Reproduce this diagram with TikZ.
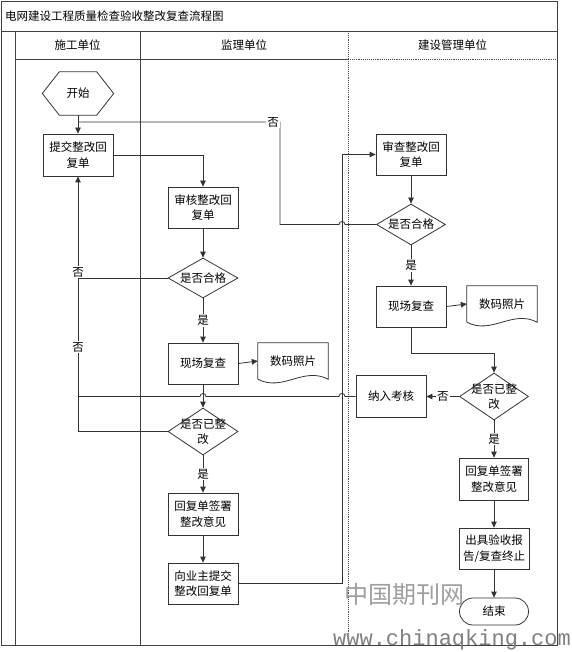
\documentclass[tikz,border=0pt]{standalone}
\usepackage{fontspec}
\setmainfont{Noto Sans CJK SC}
\newfontfamily\wmmono{Liberation Mono}
\usetikzlibrary{arrows.meta,shapes.geometric,shapes.misc,calc}
\begin{document}
\begin{tikzpicture}[x=1pt,y=-1pt,
  frame/.style={draw=black!75, line width=0.8pt},
  dotline/.style={draw=black!70, line width=0.9pt, densely dotted},
  line/.style={draw=black!80, line width=0.8pt},
  arr/.style={line, -{Triangle[length=6pt,width=5.5pt]}},
  txt/.style={font=\fontsize{11.5}{15.5}\selectfont, align=center, inner sep=0pt},
  box/.style={txt, draw=black!80, line width=0.8pt, minimum width=70pt, minimum height=41pt, fill=white},
  dia/.style={draw=black!80, line width=0.8pt, diamond, minimum width=70pt, minimum height=40pt, inner sep=0pt, fill=white},
  lbl/.style={txt, fill=white, inner sep=1pt},
  shapebox/.style={txt, minimum width=70pt, minimum height=36pt}
]
\useasboundingbox (0,0) rectangle (571,652);

% frame and lanes
\draw[frame] (1,1) rectangle (557,645);
\draw[frame] (1,31) -- (557,31);
\draw[frame] (15,31) -- (15,645);
\draw[frame] (140,31) -- (140,645);
\draw[frame] (15,59) -- (348,59);
\draw[dotline] (348,59) -- (557,59);
\draw[dotline] (348,31) -- (348,645);

\node[txt, anchor=west] (title) at (5,16) {电网建设工程质量检查验收整改复查流程图};
\node[txt] (lane1) at (77.5,45) {施工单位};
\node[txt] (lane2) at (244,45) {监理单位};
\node[txt] (lane3) at (452.5,45) {建设管理单位};

% nodes
\node[txt, minimum width=71pt, minimum height=43pt] (start) at (78,93.5) {开始};
\draw[line] (start.west) -- ($(start.north west)+(17,0)$) -- ($(start.north east)+(-17,0)$) -- (start.east) -- ($(start.south east)+(-17,0)$) -- ($(start.south west)+(17,0)$) -- cycle;

\node[box, minimum height=42pt] (tj) at (78,155) {提交整改回\\复单};
\node[box] (sh) at (203,207.5) {审核整改回\\复单};
\node[dia, label={[txt]center:是否合格}] (hg1) at (203,278) {};
\node[box] (xc1) at (203,363.5) {现场复查};
\node[shapebox] (ph1) at (293,361) {数码照片};
\draw[line] (ph1.south west) -- (ph1.north west) -- (ph1.north east) -- (ph1.south east)
  .. controls +(-25,-13) and +(25,13) .. (ph1.south west);
\node[dia, minimum height=47pt, label={[txt]center:是否已整\\改}] (yz1) at (203,431.5) {};
\node[box, minimum height=42pt] (hf1) at (203,514) {回复单签署\\整改意见};
\node[box] (xy) at (203,583.5) {向业主提交\\整改回复单};

\node[box] (sc) at (411,154.5) {审查整改回\\复单};
\node[dia, minimum width=69pt, minimum height=41pt, label={[txt]center:是否合格}] (hg2) at (411,224.5) {};
\node[box] (xc2) at (411,306.5) {现场复查};
\node[shapebox] (ph2) at (502,304) {数码照片};
\draw[line] (ph2.south west) -- (ph2.north west) -- (ph2.north east) -- (ph2.south east)
  .. controls +(-25,-13) and +(25,13) .. (ph2.south west);
\node[dia, minimum width=69pt, minimum height=47pt, label={[txt]center:是否已整\\改}] (yz2) at (494,396.5) {};
\node[box, minimum height=42pt] (nr) at (391,396.5) {纳入考核};
\node[box, minimum width=69pt, minimum height=42pt] (hf2) at (494,479) {回复单签署\\整改意见};
\node[box] (cj) at (494,548.5) {出具验收报\\告/复查终止};
\node[txt, draw=black!80, line width=0.8pt, rounded rectangle, minimum width=69pt, minimum height=27pt] (end) at (494,611.5) {结束};

% helper coordinates
\coordinate (busx) at (342,0);
\coordinate (backx) at (280,0);
\coordinate (noy) at (0,122);

% connectors
\draw[arr] (start.south) -- (tj.north);
\draw[arr] (tj.east) -| (sh.north);
\draw[arr] (sh.south) -- (hg1.north);
\draw[line] (hg1.west) -- (hg1.west -| tj.south);
\draw[arr] (hg1.south) -- (xc1.north) node[lbl, midway] (y1) {是};
\draw[arr] (xc1.east) -- (ph1.west);
\draw[arr] (xc1.south) -- (yz1.north);
\draw[arr] (yz1.west) -- (yz1.west -| tj.south) -- (tj.south);
\draw[arr] (yz1.south) -- (hf1.north) node[lbl, midway] (y2) {是};
\draw[arr] (hf1.south) -- (xy.north);
\draw[arr] (xy.east) -- (xy.east -| busx) -- (sc.west -| busx) -- (sc.west);

\draw[arr] (sc.south) -- (hg2.north);
\draw[line] (hg2.west) -- ($(hg2.west -| busx)+(3,0)$) .. controls +(0,-4) and +(0,-4) .. ($(hg2.west -| busx)+(-3,0)$)
  -- (hg2.west -| backx) -- (backx |- noy) -- (tj.north |- noy);
\draw[arr] (hg2.south) -- (xc2.north) node[lbl, midway] (y3) {是};
\draw[arr] (xc2.east) -- (ph2.west);
\draw[arr] (xc2.south) -- ++(0,26) -| (yz2.north);
\draw[arr] (yz2.west) -- (nr.east) node[lbl, midway] (n4) {否};
\draw[line] (nr.west) -- ($(nr.west -| busx)+(3,0)$) .. controls +(0,-4) and +(0,-4) .. ($(nr.west -| busx)+(-3,0)$)
  -- ($(nr.west -| xc1.south)+(3,0)$) .. controls +(0,-4) and +(0,-4) .. ($(nr.west -| xc1.south)+(-3,0)$)
  -- (nr.west -| tj.south);
\draw[arr] (yz2.south) -- (hf2.north) node[lbl, midway] (y4) {是};
\draw[arr] (hf2.south) -- (cj.north);
\draw[arr] (cj.south) -- (end.north);

% labels on lines
\node[lbl] (n1) at ($(backx |- noy)+(-7,0)$) {否};
\node[lbl] (n2) at (78,272) {否};
\node[lbl] (n3) at (78,347) {否};

% watermark
\node[font=\fontsize{24}{24}\selectfont, text=black!38, inner sep=0pt] (wm1) at (404,594) {中国期刊网};
\node[font=\wmmono\fontsize{22}{22}\selectfont, text=black!50, inner sep=0pt] (wm2) at (452,640) {www.chinaqking.com};
\end{tikzpicture}
\end{document}
